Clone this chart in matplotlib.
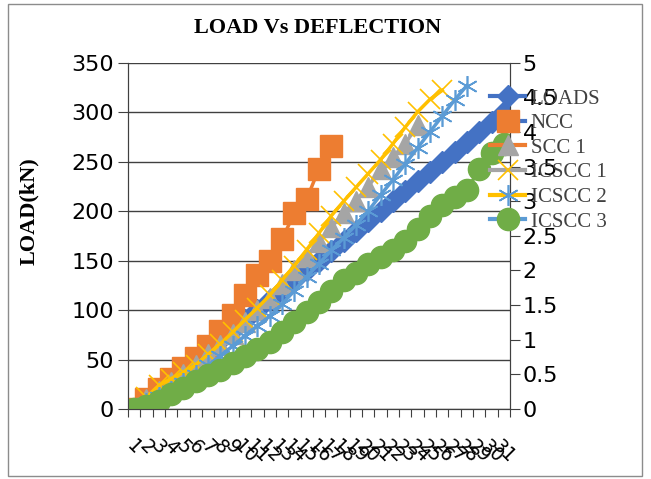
import matplotlib
matplotlib.use("Agg")
import matplotlib.pyplot as plt
import numpy as np
from matplotlib.lines import Line2D
from matplotlib.patches import Rectangle
from matplotlib.legend_handler import HandlerTuple

# categories (x axis labels)
cats = list(range(1, 32))

# load (kN) on the left axis
loads = [0, 10, 20, 30, 40, 50, 60, 70, 80, 90, 100, 110, 120, 130, 140, 150,
         160, 170, 180, 190, 200, 210, 220, 230, 240, 250, 260, 270, 280, 290, 300]

# deflections (mm) on the right axis
ncc = [0, 0.15, 0.29, 0.44, 0.59, 0.74, 0.91, 1.13, 1.36, 1.64, 1.93, 2.14,
       2.45, 2.83, 3.03, 3.47, 3.80]
scc1 = [0, 0.14, 0.26, 0.39, 0.51, 0.64, 0.79, 0.93, 1.09, 1.26, 1.43, 1.60,
        1.80, 2.00, 2.20, 2.41, 2.63, 2.83, 3.01, 3.21, 3.46, 3.64, 3.83, 4.10]
icscc1 = [0, 0.17, 0.34, 0.44, 0.53, 0.64, 0.79, 0.94, 1.11, 1.29, 1.46, 1.64,
          1.86, 2.07, 2.30, 2.54, 2.79, 3.00, 3.20, 3.40, 3.60, 3.83, 4.07,
          4.29, 4.47, 4.60]
icscc2 = [0, 0.09, 0.17, 0.26, 0.37, 0.49, 0.63, 0.77, 0.91, 1.06, 1.20, 1.34,
          1.51, 1.71, 1.91, 2.10, 2.29, 2.47, 2.66, 2.86, 3.09, 3.31, 3.54,
          3.77, 4.00, 4.23, 4.46, 4.67]
icscc3 = [0, 0.04, 0.11, 0.21, 0.31, 0.40, 0.49, 0.57, 0.66, 0.76, 0.86, 0.97,
          1.11, 1.26, 1.40, 1.54, 1.71, 1.86, 1.97, 2.09, 2.19, 2.29, 2.43,
          2.60, 2.79, 2.94, 3.06, 3.16, 3.46, 3.69, 3.83]

names = ["LOADS", "NCC", "SCC 1", "ICSCC 1", "ICSCC 2", "ICSCC 3"]
colors = ["#4472C4", "#ED7D31", "#A5A5A5", "#FFC000", "#5B9BD5", "#70AD47"]

serif = "Liberation Serif"
sans = "DejaVu Sans"
dark = "#404040"

fig = plt.figure(figsize=(6.51, 4.79), dpi=100)
ax = fig.add_axes([128 / 651, 1 - 409 / 479, 382 / 651, (409 - 62.7) / 479])
ax2 = ax.twinx()

# series
mk = [dict(marker="D", ms=11.5), dict(marker="s", ms=16), dict(marker="^", ms=14),
      dict(marker="x", ms=15, mew=1.2), dict(marker=(6, 2, 0), ms=15, mew=1.2),
      dict(marker="o", ms=16)]

ax.plot(cats[:len(loads)], loads, color=colors[0], lw=2.5, **mk[0])
for i, ys in enumerate([ncc, scc1, icscc1, icscc2, icscc3], start=1):
    ax2.plot(cats[:len(ys)], ys, color=colors[i], lw=2.5, **mk[i])

# axes
ax.set_xlim(0.5, 31.5)
ax.set_ylim(0, 350)
ax2.set_ylim(0, 5)
ax.set_yticks(np.arange(0, 351, 50))
ax2.set_yticks(np.arange(0, 5.01, 0.5))
ax2.set_yticklabels(["%g" % v for v in np.arange(0, 5.01, 0.5)])
ax.grid(axis="y", color=dark, lw=1)
ax.set_axisbelow(True)

ax.set_xticks(np.arange(0.5, 32, 1))
ax.set_xticklabels([])
ax.set_xticks(cats, minor=True)
ax.set_xticklabels([str(c) for c in cats], minor=True, rotation=-45,
                   ha="center", va="top", fontsize=13.5, family=sans)
ax.tick_params(axis="x", which="major", length=6, color=dark, direction="out")
ax.tick_params(axis="x", which="minor", length=0, pad=20)
ax.tick_params(axis="y", length=7, color=dark, pad=3, labelsize=16)
ax2.tick_params(axis="y", length=7, color=dark, pad=2, labelsize=16)
for lab in ax.get_yticklabels() + ax2.get_yticklabels():
    lab.set_family(sans)

for a in (ax, ax2):
    a.spines["top"].set_visible(False)
    for s in ("left", "right", "bottom"):
        a.spines[s].set_color(dark)
    a.patch.set_visible(False)

fig.text(318 / 651, 1 - 28 / 479, "LOAD Vs DEFLECTION", ha="center", va="center",
         fontsize=16, fontweight="bold", family=serif)
fig.text(29 / 651, 1 - 211 / 479, "LOAD(kN)", ha="center", va="center",
         rotation=90, fontsize=16, fontweight="bold", family=serif)

# legend: line samples sit one row below their markers, as in the original
handles = []
for i in range(len(names)):
    li = max(i - 1, 0)
    ln = Line2D([], [], color=colors[li], lw=3)
    mm = Line2D([], [], color=colors[i], lw=0, **mk[i])
    handles.append((ln, mm))
leg = ax2.legend(handles, names, loc="upper left", bbox_to_anchor=(490 / 651, 1 - 89 / 479),
                 bbox_transform=fig.transFigure, frameon=False, handlelength=1.7,
                 handletextpad=0.25, labelspacing=0.24, borderpad=0, borderaxespad=0,
                 prop={"family": serif, "size": 15},
                 handler_map={tuple: HandlerTuple(ndivide=1)})
for t in leg.get_texts():
    t.set_color("#404040")

fig.patches.append(Rectangle((8 / 651, 3 / 479), 634 / 651, 472 / 479, fill=False,
                             edgecolor="#8c8c8c", lw=1, transform=fig.transFigure))

fig.savefig("out.png", dpi=100)
